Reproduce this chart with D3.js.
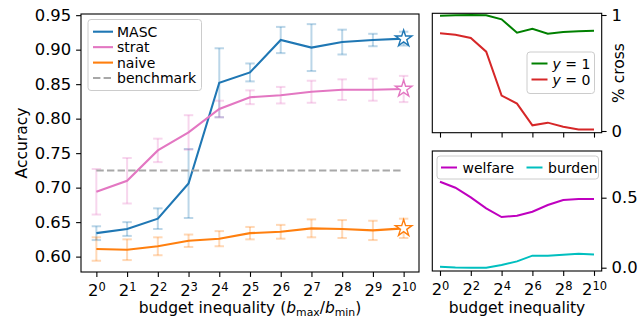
<!DOCTYPE html>
<html lang="en">
<meta charset="UTF-8">
<script src="https://cdnjs.cloudflare.com/ajax/libs/d3/7.8.5/d3.min.js"></script>
<style>
body {margin:0; background:#fff}
svg {font-family: "DejaVu Sans", sans-serif; display:block}
</style>
<body>
<svg width="640" height="318"></svg>
<script>
// budget inequality exponents (2^k)
let expo = [0, 1, 2, 3, 4, 5, 6, 7, 8, 9, 10];

let masc = [0.634, 0.640, 0.655, 0.706, 0.852, 0.867, 0.914, 0.903, 0.911, 0.914, 0.916];
let mascErr = [0.010, 0.010, 0.015, 0.050, 0.050, 0.013, 0.019, 0.034, 0.018, 0.009, 0.010];
let strat = [0.694, 0.710, 0.754, 0.780, 0.814, 0.831, 0.834, 0.839, 0.842, 0.842, 0.843];
let stratErr = [0.033, 0.033, 0.017, 0.025, 0.012, 0.010, 0.012, 0.016, 0.015, 0.016, 0.019];
let naive = [0.611, 0.610, 0.615, 0.623, 0.626, 0.634, 0.636, 0.641, 0.640, 0.638, 0.641];
let naiveErr = [0.017, 0.015, 0.013, 0.009, 0.011, 0.009, 0.010, 0.013, 0.013, 0.014, 0.014];
let benchmark = 0.725;

let cross1 = [0.994, 0.997, 1.000, 0.997, 0.963, 0.848, 0.882, 0.839, 0.853, 0.859, 0.865];
let cross0 = [0.842, 0.830, 0.802, 0.684, 0.305, 0.236, 0.049, 0.072, 0.037, 0.014, 0.014];

let welfare = [0.614, 0.571, 0.502, 0.424, 0.362, 0.371, 0.400, 0.448, 0.483, 0.490, 0.490];
let burden = [0.007, 0.002, 0.000, 0.000, 0.019, 0.045, 0.086, 0.086, 0.093, 0.100, 0.095];

let accTicks = [0.60, 0.65, 0.70, 0.75, 0.80, 0.85, 0.90, 0.95];

var svg = d3.select("svg");
var tickFont = "16.4px", labFont = "15.5px", legFont = "14px";
var tickLen = 4.9, tickPad = 4.9;

// power-of-two tick label with superscript
function powLabel(sel) {
  sel.each(function(d) {
    var t = d3.select(this);
    t.text(null);
    t.append("tspan").text("2");
    t.append("tspan").attr("font-size", "0.7em").attr("dy", "-0.45em").text(d);
  });
}

function styleAxis(g) {
  g.select(".domain").remove();
  g.selectAll(".tick line").attr("stroke", "#000").attr("stroke-width", 1.1);
  g.selectAll(".tick text").attr("fill", "#000").attr("font-size", tickFont).attr("font-family", "DejaVu Sans");
}

function frame(x0, y0, x1, y1) {
  svg.append("rect").attr("x", x0).attr("y", y0).attr("width", x1 - x0).attr("height", y1 - y0)
    .attr("fill", "none").attr("stroke", "#000").attr("stroke-width", 1.1);
}

// ---------------- main panel ----------------
var M = {l: 81, r: 419, t: 14, b: 272};
var x = d3.scaleLinear().domain([-0.5, 10.5]).range([M.l, M.r]);
var y = d3.scaleLinear().domain([0.5777, 0.9517]).range([M.b, M.t]);

svg.append("g").attr("transform", "translate(0," + M.b + ")")
  .call(d3.axisBottom(x).tickValues(expo).tickSize(tickLen).tickPadding(tickPad + 2.5))
  .call(styleAxis)
  .call(g => g.selectAll(".tick text").call(powLabel));

svg.append("g").attr("transform", "translate(" + M.l + ",0)")
  .call(d3.axisLeft(y).tickValues(accTicks).tickSize(tickLen).tickPadding(tickPad).tickFormat(d3.format(".2f")))
  .call(styleAxis);

var series = [
  {name: "MASC", v: masc, e: mascErr, c: "#1f77b4"},
  {name: "strat", v: strat, e: stratErr, c: "#e377c2"},
  {name: "naive", v: naive, e: naiveErr, c: "#ff7f0e"}
];

var line = d3.line().x((d, i) => x(expo[i])).y(d => y(d));

series.forEach(function(s) {
  var eg = svg.append("g").attr("stroke", s.c).attr("stroke-opacity", 0.3).attr("stroke-width", 2);
  expo.forEach(function(k, i) {
    var lo = y(s.v[i] - s.e[i]), hi = y(s.v[i] + s.e[i]), cx = x(k);
    eg.append("line").attr("x1", cx).attr("x2", cx).attr("y1", lo).attr("y2", hi);
    eg.append("line").attr("x1", cx - 4.7).attr("x2", cx + 4.7).attr("y1", lo).attr("y2", lo);
    eg.append("line").attr("x1", cx - 4.7).attr("x2", cx + 4.7).attr("y1", hi).attr("y2", hi);
  });
  svg.append("path").datum(s.v).attr("d", line).attr("fill", "none")
    .attr("stroke", s.c).attr("stroke-width", 2.1);
});

svg.append("line").attr("x1", x(0)).attr("x2", x(10)).attr("y1", y(benchmark)).attr("y2", y(benchmark))
  .attr("stroke", "#a8a8a8").attr("stroke-width", 2).attr("stroke-dasharray", "7.4,3.2");

series.forEach(function(s) {
  svg.append("path").attr("d", d3.symbol(d3.symbolStar, 85)())
    .attr("transform", "translate(" + x(10) + "," + y(s.v[10]) + ")")
    .attr("fill", "#fff").attr("stroke", s.c).attr("stroke-width", 1.4);
});

frame(M.l, M.t, M.r, M.b);

// legend main
var lg = svg.append("g");
lg.append("rect").attr("x", 88).attr("y", 19.5).attr("width", 113.5).attr("height", 71).attr("rx", 3)
  .attr("fill", "#fff").attr("fill-opacity", 0.8).attr("stroke", "#ccc");
var legItems = [
  {name: "MASC", c: "#1f77b4", dash: null},
  {name: "strat", c: "#e377c2", dash: null},
  {name: "naive", c: "#ff7f0e", dash: null},
  {name: "benchmark", c: "#a8a8a8", dash: "7.4,3.2"}
];
legItems.forEach(function(it, i) {
  var ly = 31.7 + i * 15.45;
  lg.append("line").attr("x1", 93).attr("x2", 113).attr("y1", ly).attr("y2", ly)
    .attr("stroke", it.c).attr("stroke-width", 2.1).attr("stroke-dasharray", it.dash);
  lg.append("text").attr("x", 117).attr("y", ly + 5).attr("font-size", legFont).text(it.name);
});

svg.append("text").attr("transform", "translate(27," + (M.t + M.b) / 2 + ") rotate(-90)")
  .attr("text-anchor", "middle").attr("font-size", labFont).text("Accuracy");

var xl = svg.append("text").attr("x", (M.l + M.r) / 2).attr("y", 313).attr("text-anchor", "middle").attr("font-size", labFont);
xl.append("tspan").text("budget inequality (");
xl.append("tspan").attr("font-style", "italic").text("b");
xl.append("tspan").attr("font-size", "0.7em").attr("dy", "0.25em").text("max");
xl.append("tspan").attr("dy", "-0.175em").text("/");
xl.append("tspan").attr("font-style", "italic").text("b");
xl.append("tspan").attr("font-size", "0.7em").attr("dy", "0.25em").text("min");
xl.append("tspan").attr("dy", "-0.175em").text(")");

// ---------------- top-right panel ----------------
var R = {l: 432.3, r: 601.7};
var xr = d3.scaleLinear().domain([-0.5, 10.5]).range([R.l, R.r]);
var T = {t: 13.3, b: 132.7};
var yt = d3.scaleLinear().domain([0, 1]).range([131, 15]);

svg.append("g").attr("transform", "translate(0," + T.b + ")")
  .call(d3.axisBottom(xr).tickValues([0, 2, 4, 6, 8, 10]).tickSize(tickLen).tickFormat(""))
  .call(styleAxis);
svg.append("g").attr("transform", "translate(" + R.r + ",0)")
  .call(d3.axisRight(yt).tickValues([0, 1]).tickSize(tickLen).tickPadding(tickPad).tickFormat(d3.format("d")))
  .call(styleAxis);

var liner = d3.line().x((d, i) => xr(expo[i])).y(d => yt(d));
svg.append("path").datum(cross1).attr("d", liner).attr("fill", "none").attr("stroke", "#008000").attr("stroke-width", 2);
svg.append("path").datum(cross0).attr("d", liner).attr("fill", "none").attr("stroke", "#d62728").attr("stroke-width", 2);
frame(R.l, T.t, R.r, T.b);

var lt = svg.append("g");
lt.append("rect").attr("x", 527).attr("y", 52).attr("width", 67.5).attr("height", 41.5).attr("rx", 3)
  .attr("fill", "#fff").attr("fill-opacity", 0.8).attr("stroke", "#ccc");
[{lab: "1", c: "#008000"}, {lab: "0", c: "#d62728"}].forEach(function(it, i) {
  var ly = 63.5 + i * 16;
  lt.append("line").attr("x1", 531.5).attr("x2", 547.5).attr("y1", ly).attr("y2", ly).attr("stroke", it.c).attr("stroke-width", 2);
  var t = lt.append("text").attr("x", 552.5).attr("y", ly + 5).attr("font-size", legFont);
  t.append("tspan").attr("font-style", "italic").text("y");
  t.append("tspan").text(" = " + it.lab);
});

svg.append("text").attr("transform", "translate(623.5," + (T.t + T.b) / 2 + ") rotate(-90)")
  .attr("text-anchor", "middle").attr("font-size", labFont).text("% cross");

// ---------------- bottom-right panel ----------------
var B = {t: 151, b: 271};
var yb = d3.scaleLinear().domain([0, 0.5]).range([267.7, 197.7]);

svg.append("g").attr("transform", "translate(0," + B.b + ")")
  .call(d3.axisBottom(xr).tickValues([0, 2, 4, 6, 8, 10]).tickSize(tickLen).tickPadding(tickPad + 2.5))
  .call(styleAxis)
  .call(g => g.selectAll(".tick text").call(powLabel));
svg.append("g").attr("transform", "translate(" + R.r + ",0)")
  .call(d3.axisRight(yb).tickValues([0, 0.5]).tickSize(tickLen).tickPadding(tickPad).tickFormat(d3.format(".1f")))
  .call(styleAxis);

var lineb = d3.line().x((d, i) => xr(expo[i])).y(d => yb(d));
svg.append("path").datum(welfare).attr("d", lineb).attr("fill", "none").attr("stroke", "#bf00bf").attr("stroke-width", 2);
svg.append("path").datum(burden).attr("d", lineb).attr("fill", "none").attr("stroke", "#00bfbf").attr("stroke-width", 2);
frame(R.l, B.t, R.r, B.b);

var lb = svg.append("g");
lb.append("rect").attr("x", 437).attr("y", 156).attr("width", 161.5).attr("height", 23).attr("rx", 3)
  .attr("fill", "#fff").attr("fill-opacity", 0.8).attr("stroke", "#ccc");
[{lab: "welfare", c: "#bf00bf", x: 441}, {lab: "burden", c: "#00bfbf", x: 526.5}].forEach(function(it) {
  lb.append("line").attr("x1", it.x).attr("x2", it.x + 16).attr("y1", 167.5).attr("y2", 167.5).attr("stroke", it.c).attr("stroke-width", 2);
  lb.append("text").attr("x", it.x + 21.5).attr("y", 172.5).attr("font-size", legFont).text(it.lab);
});

svg.append("text").attr("x", (R.l + R.r) / 2).attr("y", 313).attr("text-anchor", "middle")
  .attr("font-size", labFont).text("budget inequality");
</script>
</body>
</html>
